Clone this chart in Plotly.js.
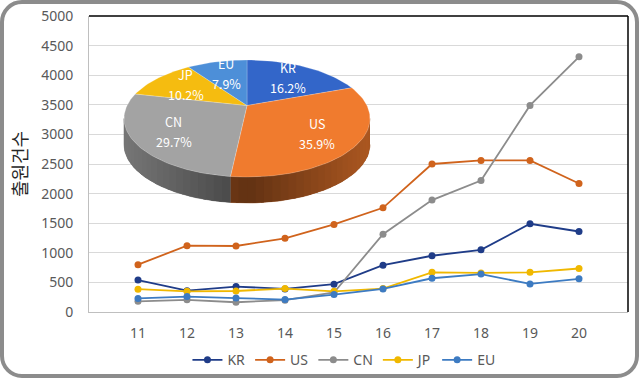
<!DOCTYPE html>
<html>
<head>
<meta charset="utf-8">
<script src="https://cdn.plot.ly/plotly-3.0.1.min.js"></script>
<style>
  html, body { margin: 0; padding: 0; background: #ffffff; }
  #wrap { position: relative; width: 639px; height: 378px; }
  #chart { position: absolute; left: 0; top: 0; width: 639px; height: 378px; }
  #frame { position: absolute; left: 0; top: 0; width: 639px; height: 378px; box-sizing: border-box;
           border: 4px solid #8c8c8c; border-radius: 22px; pointer-events: none; z-index: 10; }
</style>
</head>
<body>
<div id="wrap">
  <div id="chart"></div>
  <div id="frame"></div>
</div>
<script>
// ---------------- data ----------------
const years = [11, 12, 13, 14, 15, 16, 17, 18, 19, 20];
const KR = [540, 360, 430, 390, 470, 790, 950, 1050, 1490, 1360];
const US = [800, 1120, 1115, 1245, 1480, 1760, 2500, 2560, 2560, 2170];
const CN = [180, 205, 165, 200, 330, 1315, 1890, 2220, 3490, 4310];
const JP = [385, 350, 355, 395, 350, 395, 670, 660, 670, 735];
const EU = [230, 260, 235, 210, 295, 390, 570, 640, 475, 560];
const seriesNames = ['KR', 'US', 'CN', 'JP', 'EU'];
const pieLabels = ['KR', 'US', 'CN', 'JP', 'EU'];
const pieShares = [16.2, 35.9, 29.7, 10.2, 7.9];
const yTickVals = [0, 500, 1000, 1500, 2000, 2500, 3000, 3500, 4000, 4500, 5000];
const yTitle = '출원건수';

// ---------------- styles ----------------
const lineColors = ['#1f3c88', '#d0631c', '#8c8c8c', '#f0b800', '#3d7bc2'];
const topColors  = ['#3366c9', '#f07b2e', '#a3a3a3', '#f5bc10', '#4d8fd8'];
const sideBase   = [[60, 110, 200], [232, 118, 44], [160, 160, 160], [245, 188, 16], [77, 143, 216]];
const tickFont = { family: 'Noto Sans, sans-serif', size: 14, color: '#595959' };

// plot area in pixels (for the pie overlay frame)
const M = { l: 89, r: 11, t: 16, b: 66, autoexpand: false };
const W = 639, H = 378;
const PX = { left: M.l, right: W - M.r, top: M.t, bottom: H - M.b };
// pie geometry (pixel frame)
const PIE = { cx: 247, cy: 118.5, a: 123, b: 58.5, depth: 26, apexDy: -13, labelCy: 112, labelR: 0.68 };

const series = [KR, US, CN, JP, EU];
const traces = series.map((vals, i) => ({
  type: 'scatter', mode: 'lines+markers', name: seriesNames[i],
  x: years, y: vals, xaxis: 'x', yaxis: 'y',
  line: { color: lineColors[i], width: 1.8 },
  marker: { color: lineColors[i], size: 7 },
  hoverinfo: 'x+y+name'
}));

// pie helpers
const rad = d => d * Math.PI / 180;
function ell(theta, dy) { // theta in degrees clockwise from top
  return [PIE.cx + PIE.a * Math.sin(rad(theta)), PIE.cy - PIE.b * Math.cos(rad(theta)) + (dy || 0)];
}
const total = pieShares.reduce((s, v) => s + v, 0);
let acc = 0;
const slices = pieShares.map(v => { const s = acc / total * 360; acc += v; return [s, acc / total * 360]; });

function wall(t0, t1, steps) {
  const xs = [], ys = [];
  for (let j = 0; j <= steps; j++) { const p = ell(t0 + (t1 - t0) * j / steps); xs.push(p[0]); ys.push(p[1]); }
  for (let j = steps; j >= 0; j--) { const p = ell(t0 + (t1 - t0) * j / steps, PIE.depth); xs.push(p[0]); ys.push(p[1]); }
  return [xs, ys];
}
function shadeCol(i, t) {
  const f = 0.42 + 0.32 * Math.abs(Math.sin(rad(t)));
  const c = sideBase[i].map(v => Math.round(v * f));
  return `rgb(${c[0]},${c[1]},${c[2]})`;
}

// side walls (visible front half: 90..270 deg)
const sideTraces = [];
slices.forEach(([s, e], i) => {
  const lo = Math.max(s, 90), hi = Math.min(e, 270);
  if (hi <= lo) return;
  // base wall
  const [bx, by] = wall(lo, hi, 40);
  const baseCol = shadeCol(i, (lo + hi) / 2);
  sideTraces.push({ type: 'scatter', mode: 'lines', x: bx, y: by, xaxis: 'x2', yaxis: 'y2',
    fill: 'toself', fillcolor: baseCol, line: { color: baseCol, width: 0.5 }, hoverinfo: 'skip', showlegend: false });
  const n = Math.max(2, Math.ceil((hi - lo) / 4));
  const step = (hi - lo) / n;
  for (let k = 0; k < n; k++) {
    const t0 = lo + step * k, t1 = Math.min(hi, lo + step * (k + 1) + step * 0.35);
    const [xs, ys] = wall(t0, t1, 3);
    const col = shadeCol(i, lo + step * (k + 0.5));
    sideTraces.push({
      type: 'scatter', mode: 'lines', x: xs, y: ys, xaxis: 'x2', yaxis: 'y2',
      fill: 'toself', fillcolor: col, line: { width: 0 },
      hoverinfo: 'skip', showlegend: false
    });
  }
});

// top surfaces
const apex = [PIE.cx, PIE.cy + PIE.apexDy];
const topTraces = slices.map(([s, e], i) => {
  const xs = [apex[0]], ys = [apex[1]];
  const n = Math.max(4, Math.ceil((e - s) / 2));
  for (let j = 0; j <= n; j++) { const p = ell(s + (e - s) * j / n); xs.push(p[0]); ys.push(p[1]); }
  xs.push(apex[0]); ys.push(apex[1]);
  return {
    type: 'scatter', mode: 'lines', x: xs, y: ys, xaxis: 'x2', yaxis: 'y2',
    fill: 'toself', fillcolor: topColors[i], line: { color: 'rgba(255,255,255,0.35)', width: 0.6 },
    name: pieLabels[i], text: pieShares[i] + '%', hoverinfo: 'name+text', showlegend: false
  };
});

// labels
const annotations = [];
slices.forEach(([s, e], i) => {
  const tm = (s + e) / 2;
  const x = PIE.cx + PIE.labelR * PIE.a * Math.sin(rad(tm));
  const y = PIE.labelCy - PIE.labelR * PIE.b * Math.cos(rad(tm));
  const font = { family: 'Noto Sans CJK KR, Noto Sans, sans-serif', size: 12.5, color: '#ffffff' };
  annotations.push({ xref: 'x2', yref: 'y2', x: x, y: y - 10, text: pieLabels[i], showarrow: false, font: font });
  annotations.push({ xref: 'x2', yref: 'y2', x: x, y: y + 10, text: pieShares[i].toFixed(1) + '%', showarrow: false, font: font });
});

const layout = {
  width: W, height: H,
  margin: M,
  paper_bgcolor: 'rgba(0,0,0,0)', plot_bgcolor: 'rgba(0,0,0,0)',
  showlegend: true,
  legend: { orientation: 'h', x: 0.473, xanchor: 'center', y: -0.163, yanchor: 'middle',
            font: tickFont, itemwidth: 30, bgcolor: 'rgba(0,0,0,0)' },
  xaxis: { range: [10, 21], tickvals: years, ticktext: years.map(String), ticks: '',
           showgrid: false, zeroline: false, showline: true, linecolor: '#bfbfbf', linewidth: 1,
           tickfont: tickFont, ticklabelstandoff: 8, fixedrange: true },
  yaxis: { range: [0, 5000], tickvals: yTickVals, ticks: '', showgrid: true, gridcolor: '#d9d9d9', gridwidth: 1,
           zeroline: false, showline: true, linecolor: '#bfbfbf', linewidth: 1,
           tickfont: tickFont, ticklabelstandoff: 12, fixedrange: true,
           title: { text: yTitle, font: { family: 'Noto Sans CJK KR, sans-serif', size: 18, color: '#262626' }, standoff: 8 } },
  xaxis2: { overlaying: 'x', anchor: 'y2', range: [PX.left, PX.right], visible: false, fixedrange: true },
  yaxis2: { overlaying: 'y', anchor: 'x2', range: [PX.bottom, PX.top], visible: false, fixedrange: true },
  shapes: [
    { type: 'line', xref: 'paper', yref: 'paper', x0: 0, x1: 1, y0: 1, y1: 1, line: { color: '#000000', width: 1.5 } },
    { type: 'line', xref: 'paper', yref: 'paper', x0: 1, x1: 1, y0: 0, y1: 1, line: { color: '#000000', width: 1.5 } }
  ],
  annotations: annotations
};

Plotly.newPlot('chart', traces.concat(sideTraces, topTraces), layout, { displayModeBar: false });
</script>
</body>
</html>
